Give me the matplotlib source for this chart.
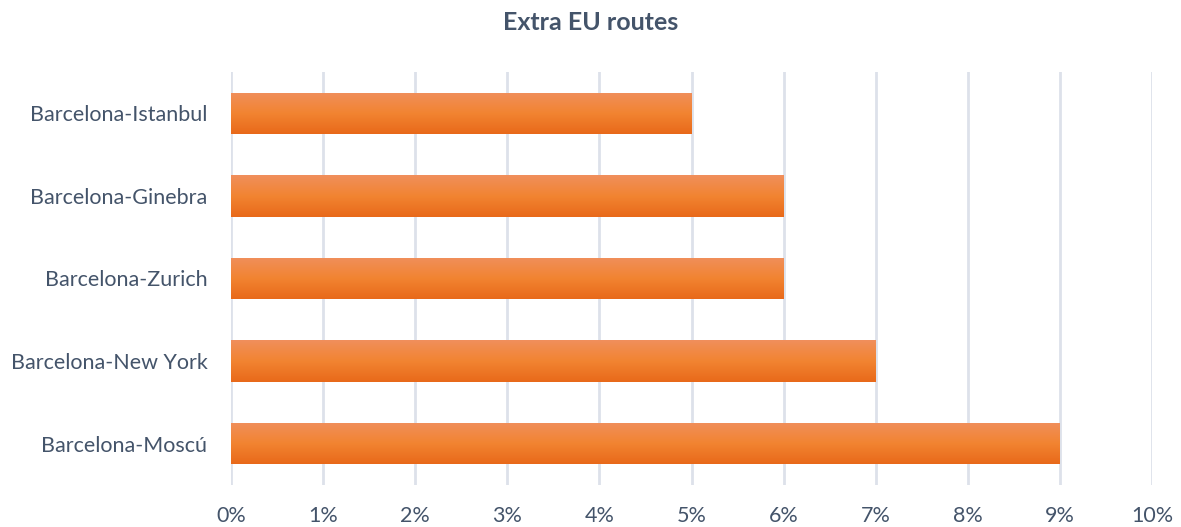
import matplotlib
matplotlib.use("Agg")
import matplotlib.pyplot as plt
import numpy as np
from matplotlib.colors import LinearSegmentedColormap

routes = ["Barcelona-Moscú", "Barcelona-New York", "Barcelona-Zurich",
          "Barcelona-Ginebra", "Barcelona-Istanbul"]
shares = [9, 7, 6, 6, 5]
xticks = [0, 1, 2, 3, 4, 5, 6, 7, 8, 9, 10]

plt.rcParams['font.family'] = ['Lato', 'DejaVu Sans']

fig = plt.figure(figsize=(11.81, 5.27), dpi=100)
ax = fig.add_axes([0.1956, 0.0797, 0.7799, 0.7837])

ypos = np.arange(len(routes))
bars = ax.barh(ypos, shares, height=0.5, color="#F07E2E", zorder=2)

# vertical orange gradient inside each bar: darker at the bottom, lighter on top
grad = LinearSegmentedColormap.from_list("og", ["#E8691A", "#F28431", "#F08F5C"])
gimg = np.linspace(0, 1, 256).reshape(-1, 1)
for b in bars:
    x0, y0 = b.get_x(), b.get_y()
    w, h = b.get_width(), b.get_height()
    im = ax.imshow(gimg, cmap=grad, aspect="auto", origin="lower",
                   extent=[x0, x0 + w, y0, y0 + h], zorder=3)
    im.set_clip_path(b)

ax.set_xlim(0, 10)
ax.set_ylim(-0.5, len(routes) - 0.5)
ax.set_xticks(xticks)
ax.set_xticklabels([f"{t}%" for t in xticks])
ax.set_yticks(ypos)
ax.set_yticklabels(routes)
ax.grid(axis="x", color="#DDE1EA", linewidth=2, zorder=0)
ax.set_axisbelow(True)
for s in ax.spines.values():
    s.set_visible(False)
ax.tick_params(axis="both", length=0, labelsize=15.5, labelcolor="#44546A")
ax.tick_params(axis="x", pad=15)
ax.tick_params(axis="y", pad=17)

fig.text(0.5, 0.958, "Extra EU routes", ha="center", va="center",
         fontsize=18, fontweight="bold", color="#44546A")

fig.savefig("out.png", dpi=100)
